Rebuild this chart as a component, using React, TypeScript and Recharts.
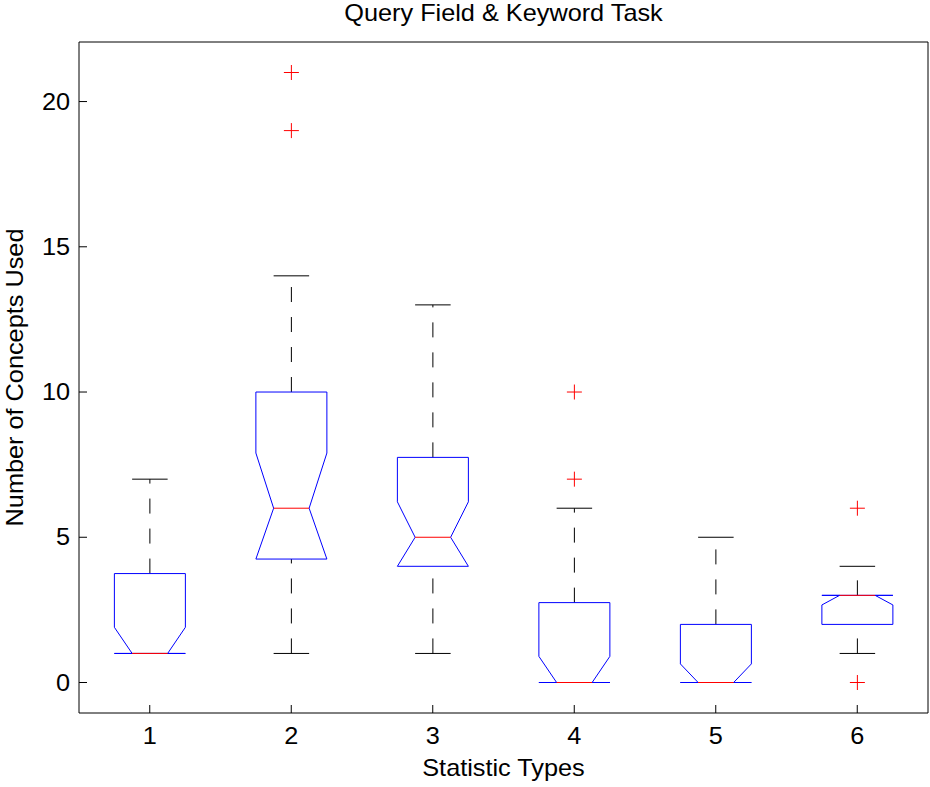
import React from 'react';
import { ComposedChart, Bar, XAxis, YAxis } from 'recharts';

const categories = ['1', '2', '3', '4', '5', '6'];
const q1 = [1, 4.25, 4, 0, 0, 2];
const median = [1, 6, 5, 0, 0, 3];
const q3 = [3.75, 10, 7.75, 2.75, 2, 3];
const notchLo = [0.1, 4.1, 3.78, -0.9, -0.64, 2.67];
const notchHi = [1.9, 7.9, 6.22, 0.9, 0.64, 3.33];
const whiskerLo = [1, 1, 1, 0, 0, 1];
const whiskerHi = [7, 14, 13, 6, 5, 4];
const outliers = [[], [19, 21], [], [7, 10], [], [0, 6]];
const yTicks = [0, 5, 10, 15, 20];

const data = categories.map((name, i) => ({
  name,
  range: [whiskerLo[i], whiskerHi[i]],
  q1: q1[i],
  median: median[i],
  q3: q3[i],
  notchLo: notchLo[i],
  notchHi: notchHi[i],
  outliers: outliers[i],
}));

const FONT = '"Liberation Sans", Arial, Helvetica, sans-serif';
const FS = 23;
const SX = 1.1; // the matlab text is a bit wider than Arial
const BLUE = '#0000ff';
const RED = '#ff0000';

// text drawn at (x, y), stretched horizontally along its own direction
const Txt = ({ x, y, angle = 0, anchor = 'middle', dy = 0, children }: any) => (
  <text
    transform={`translate(${x},${y}) rotate(${angle}) scale(${SX},1)`}
    x={0}
    y={0}
    dy={dy}
    textAnchor={anchor}
    fontFamily={FONT}
    fontSize={FS}
    fill="#000"
  >
    {children}
  </text>
);

// one notched box per category; pixel positions come from the bar's own
// range geometry (whiskerLo..whiskerHi)
const BoxShape = (props: any) => {
  const { x, y, width, height, payload } = props;
  if (!payload) return null;
  const top = Math.min(y, y + height);
  const bot = Math.max(y, y + height);
  const [lo, hi] = payload.range;
  const py = (v: number) => bot - ((v - lo) / (hi - lo)) * (bot - top);
  const cx = x + width / 2;
  const L = x;
  const R = x + width;
  const nw = width / 4;

  const nLo = Math.max(payload.notchLo, payload.q1);
  const nHi = Math.min(payload.notchHi, payload.q3);
  const pts = [
    [L, payload.q1],
    [L, nLo],
    [cx - nw, payload.median],
    [L, nHi],
    [L, payload.q3],
    [R, payload.q3],
    [R, nHi],
    [cx + nw, payload.median],
    [R, nLo],
    [R, payload.q1],
  ]
    .map(([px, v]) => `${px},${py(v)}`)
    .join(' ');

  return (
    <g>
      {/* whiskers, dashed, drawn upwards */}
      {payload.q1 > lo && (
        <line x1={cx} y1={py(lo)} x2={cx} y2={py(payload.q1)} stroke="#000" strokeWidth={1} strokeDasharray="15 15" />
      )}
      {hi > payload.q3 && (
        <line x1={cx} y1={py(payload.q3)} x2={cx} y2={py(hi)} stroke="#000" strokeWidth={1} strokeDasharray="15 15" />
      )}
      <line x1={cx - nw} y1={py(lo)} x2={cx + nw} y2={py(lo)} stroke="#000" strokeWidth={1} />
      <line x1={cx - nw} y1={py(hi)} x2={cx + nw} y2={py(hi)} stroke="#000" strokeWidth={1} />
      <polygon points={pts} fill="none" stroke={BLUE} strokeWidth={1} />
      <line x1={cx - nw} y1={py(payload.median)} x2={cx + nw} y2={py(payload.median)} stroke={RED} strokeWidth={1} />
      {payload.outliers.map((v: number, k: number) => (
        <g key={k} stroke={RED} strokeWidth={1}>
          <line x1={cx - 7.5} y1={py(v)} x2={cx + 7.5} y2={py(v)} />
          <line x1={cx} y1={py(v) - 7.5} x2={cx} y2={py(v) + 7.5} />
        </g>
      ))}
    </g>
  );
};

const XTick = (props: any) => (
  <Txt x={props.x} y={props.y} dy="0.71em">
    {props.payload.value}
  </Txt>
);

const YTick = (props: any) => (
  <Txt x={props.x} y={props.y} anchor="end" dy="0.355em">
    {props.payload.value}
  </Txt>
);

const TitleLabel = (props: any) => {
  const vb = props.viewBox || { x: 79, y: 0, width: 849, height: 42 };
  return (
    <Txt x={vb.x + vb.width / 2} y={vb.y + 21}>
      Query Field &amp; Keyword Task
    </Txt>
  );
};

const XLabel = (props: any) => {
  const vb = props.viewBox || { x: 79, y: 713, width: 849, height: 74 };
  return (
    <Txt x={vb.x + vb.width / 2} y={vb.y + 63}>
      Statistic Types
    </Txt>
  );
};

const YLabel = (props: any) => {
  const vb = props.viewBox || { x: 0, y: 42, width: 79, height: 671 };
  return (
    <Txt x={vb.x + 23} y={vb.y + vb.height / 2} angle={-90}>
      Number of Concepts Used
    </Txt>
  );
};

export default function App() {
  return (
    <div style={{ position: 'absolute', left: 0, top: 0, background: '#fff' }}>
      <ComposedChart
        width={930}
        height={787}
        data={data}
        margin={{ top: 0, right: 0, bottom: 0, left: 0 }}
        barCategoryGap="25%"
      >
        <XAxis
          xAxisId="bottom"
          dataKey="name"
          height={74}
          stroke="#000"
          tick={<XTick />}
          tickSize={-8}
          tickMargin={23}
          label={(p: any) => <XLabel {...p} />}
        />
        <XAxis
          xAxisId="top"
          orientation="top"
          dataKey="name"
          height={42}
          stroke="#000"
          tick={false}
          tickSize={-8}
          label={(p: any) => <TitleLabel {...p} />}
        />
        <YAxis
          yAxisId="left"
          type="number"
          width={79}
          domain={[-1.05, 22.05]}
          ticks={yTicks}
          interval={0}
          allowDataOverflow
          stroke="#000"
          tick={<YTick />}
          tickSize={-8}
          tickMargin={17}
          label={(p: any) => <YLabel {...p} />}
        />
        <YAxis
          yAxisId="right"
          orientation="right"
          type="number"
          width={2}
          domain={[-1.05, 22.05]}
          ticks={yTicks}
          interval={0}
          allowDataOverflow
          stroke="#000"
          tick={false}
          tickSize={-8}
        />
        <Bar
          xAxisId="bottom"
          yAxisId="left"
          dataKey="range"
          isAnimationActive={false}
          shape={(p: any) => <BoxShape {...p} />}
        />
      </ComposedChart>
    </div>
  );
}
